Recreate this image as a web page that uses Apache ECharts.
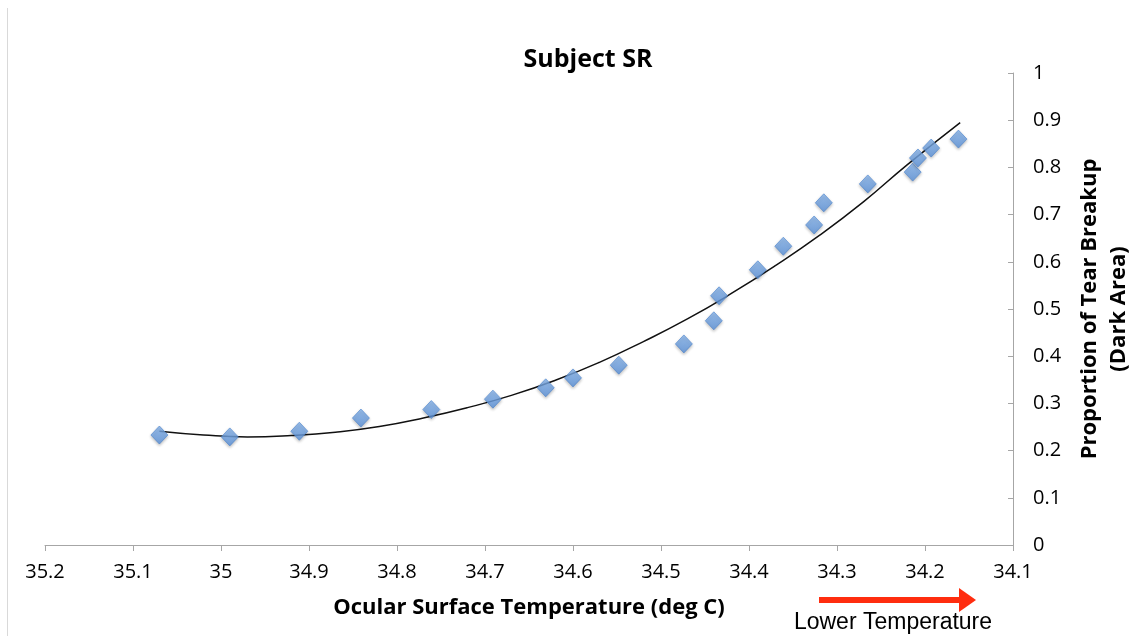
<!DOCTYPE html>
<html>
<head>
<meta charset="utf-8">
<script src="https://cdn.jsdelivr.net/npm/echarts@6/dist/echarts.min.js"></script>
<style>
html,body{margin:0;padding:0;background:#fff;}
#chart{width:1132px;height:636px;}
</style>
</head>
<body>
<div id="chart"></div>
<script>
// Measured points (ocular surface temperature, proportion of tear breakup)
var tempValues = [35.070, 34.990, 34.911, 34.841, 34.761, 34.691, 34.631, 34.600, 34.548, 34.474, 34.440, 34.434, 34.390, 34.361, 34.326, 34.315, 34.265, 34.214, 34.208, 34.193, 34.162];
var breakupValues = [0.233, 0.229, 0.241, 0.269, 0.287, 0.309, 0.333, 0.354, 0.381, 0.426, 0.475, 0.528, 0.583, 0.633, 0.678, 0.725, 0.765, 0.790, 0.820, 0.841, 0.860];
// Trendline (2nd order polynomial)
var trendTemp = [35.07, 35.02, 34.97, 34.92, 34.87, 34.82, 34.77, 34.72, 34.67, 34.62, 34.57, 34.52, 34.47, 34.42, 34.37, 34.32, 34.27, 34.22, 34.16];
var trendValue = [0.241, 0.233, 0.229, 0.232, 0.239, 0.251, 0.269, 0.291, 0.317, 0.349, 0.387, 0.431, 0.479, 0.533, 0.592, 0.656, 0.727, 0.806, 0.895];
var xTicks = { min: 34.1, max: 35.2, interval: 0.1 };
var yTicks = { min: 0, max: 1, interval: 0.1 };

var chart = echarts.init(document.getElementById('chart'), null, { renderer: 'canvas' });

var scatterData = tempValues.map(function (t, i) { return [t, breakupValues[i]]; });
var trendData = trendTemp.map(function (t, i) { return [t, trendValue[i]]; });

var axisGray = '#a6a6a6';

chart.setOption({
  backgroundColor: '#ffffff',
  animation: false,
  title: {
    text: 'Subject SR',
    left: 583,
    top: 42,
    textAlign: 'center',
    textStyle: { fontFamily: 'Open Sans', fontWeight: 'bold', fontSize: 25, color: '#000' }
  },
  grid: { left: 45, right: 119, top: 73, bottom: 91, containLabel: false, outerBoundsMode: 'none' },
  xAxis: {
    type: 'value',
    inverse: true,
    min: xTicks.min,
    max: xTicks.max,
    interval: xTicks.interval,
    splitLine: { show: false },
    axisLine: { show: true, onZero: false, lineStyle: { color: axisGray, width: 1 } },
    axisTick: { show: true, inside: false, length: 6, lineStyle: { color: axisGray } },
    axisLabel: {
      margin: 17,
      fontFamily: 'Open Sans',
      fontSize: 20,
      color: '#000',
      formatter: function (v) { return String(Math.round(v * 10) / 10); }
    },
    name: 'Ocular Surface Temperature (deg C)',
    nameLocation: 'middle',
    nameGap: 52,
    nameTextStyle: { fontFamily: 'Open Sans', fontWeight: 'bold', fontSize: 22, color: '#000' }
  },
  yAxis: {
    type: 'value',
    position: 'right',
    min: yTicks.min,
    max: yTicks.max,
    interval: yTicks.interval,
    splitLine: { show: false },
    axisLine: { show: true, onZero: false, lineStyle: { color: axisGray, width: 1 } },
    axisTick: { show: true, inside: true, length: 5, lineStyle: { color: axisGray } },
    axisLabel: {
      margin: 20,
      fontFamily: 'Open Sans',
      fontSize: 20,
      color: '#000',
      formatter: function (v) { return String(Math.round(v * 10) / 10); }
    },
    name: 'Proportion of Tear Breakup\n(Dark Area)',
    nameLocation: 'middle',
    nameRotate: 90,
    nameGap: 62,
    nameTextStyle: { fontFamily: 'Open Sans', fontWeight: 'bold', fontSize: 22, color: '#000', lineHeight: 29, align: 'center' }
  },
  series: [
    {
      type: 'line',
      data: trendData,
      smooth: true,
      showSymbol: false,
      lineStyle: { color: '#111', width: 1.5 },
      z: 2
    },
    {
      type: 'scatter',
      data: scatterData,
      symbol: 'diamond',
      symbolSize: [17, 18],
      itemStyle: {
        color: new echarts.graphic.LinearGradient(0, 0, 0, 1, [
          { offset: 0, color: '#88b6ee' },
          { offset: 1, color: '#5a92db' }
        ]),
        borderColor: '#4c84ce',
        borderWidth: 0.8,
        shadowBlur: 3,
        shadowColor: 'rgba(0,0,0,0.3)',
        shadowOffsetY: 1.5
      },
      z: 3
    }
  ],
  graphic: [
    {
      type: 'line',
      shape: { x1: 7.5, y1: 8, x2: 7.5, y2: 636 },
      style: { stroke: '#d9d9d9', lineWidth: 1 }
    },
    {
      type: 'rect',
      shape: { x: 819, y: 597, width: 143, height: 6 },
      style: { fill: '#ff2d0f' }
    },
    {
      type: 'polygon',
      shape: { points: [[959, 588], [976, 600], [959, 612]] },
      style: { fill: '#ff2d0f' }
    },
    {
      type: 'text',
      x: 893,
      y: 623,
      style: {
        text: 'Lower Temperature',
        fontFamily: 'Liberation Sans',
        fontSize: 23,
        fill: '#000',
        align: 'center',
        verticalAlign: 'middle'
      }
    }
  ]
});
</script>
</body>
</html>
